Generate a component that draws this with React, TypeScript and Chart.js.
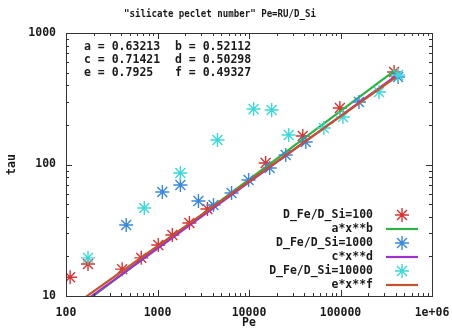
import React, { useEffect, useRef } from 'react';
import { Chart, registerables } from 'chart.js';

Chart.register(...registerables);

const titleText = '"silicate peclet number" Pe=RU/D_Si';
const xTitle = 'Pe';
const yTitle = 'tau';

const xTickValues = [100, 1000, 10000, 100000, 1000000];
const xTickLabels = ['100', '1000', '10000', '100000', '1e+06'];
const yTickValues = [10, 100, 1000];
const yTickLabels = ['10', '100', '1000'];

const seriesLabels = ['D_Fe/D_Si=100', 'D_Fe/D_Si=1000', 'D_Fe/D_Si=10000'];
const fitLabels = ['a*x**b', 'c*x**d', 'e*x**f'];
const fitParamLeft = ['a = 0.63213', 'c = 0.71421', 'e = 0.7925'];
const fitParamRight = ['b = 0.52112', 'd = 0.50298', 'f = 0.49327'];

// D_Fe/D_Si = 100
const pe100 = [111, 174, 411, 664, 1020, 1453, 2232, 3516, 15205, 38699, 98490, 385000];
const tau100 = [13.9, 17.5, 16.0, 19.5, 24.4, 29.1, 35.9, 45.9, 102.7, 164.7, 269, 505];

// D_Fe/D_Si = 1000
const pe1000 = [455, 1129, 1778, 2802, 4090, 6446, 9899, 16822, 25192, 41743, 159130, 426000];
const tau1000 = [34.7, 61.8, 69.8, 52.8, 49.2, 60.7, 76.2, 94.1, 118.1, 148.3, 298.8, 462.9];

// D_Fe/D_Si = 10000
const pe10000 = [174, 717, 1778, 4526, 11228, 17687, 27183, 65766, 106240, 263630, 426000];
const tau10000 = [19.5, 46.7, 86.2, 153.6, 264.3, 259.7, 167.6, 189.5, 229.7, 355.9, 479.4];

// fit lines (end points)
const fitPe = [100, 400000];
const fitTauAB = [7.0, 525];
const fitTauCD = [7.2, 470];
const fitTauEF = [7.7, 460];

const colRed = '#d83434';
const colGreen = '#2fb343';
const colBlue = '#3b88da';
const colPurple = '#a032cc';
const colCyan = '#3fd8d8';
const colBrown = '#c2532a';

const FONT = '"DejaVu Sans Mono", "Liberation Mono", monospace';
const textColor = '#1a1a1a';

const toPts = (xs: number[], ys: number[]) => xs.map((x, i) => ({ x, y: ys[i] }));

function drawStar(ctx: CanvasRenderingContext2D, x: number, y: number, r: number, color: string) {
  ctx.save();
  ctx.strokeStyle = color;
  ctx.lineWidth = 1.4;
  ctx.beginPath();
  ctx.moveTo(x - r, y); ctx.lineTo(x + r, y);
  ctx.moveTo(x, y - r); ctx.lineTo(x, y + r);
  const d = r * Math.SQRT1_2;
  ctx.moveTo(x - d, y - d); ctx.lineTo(x + d, y + d);
  ctx.moveTo(x - d, y + d); ctx.lineTo(x + d, y - d);
  ctx.stroke();
  ctx.restore();
}

const decorPlugin = {
  id: 'decor',
  afterDatasetsDraw(chart: any) {
    const { ctx, chartArea: a, scales } = chart;
    const xs = scales.x;
    const ys = scales.y;
    ctx.save();
    ctx.strokeStyle = '#333';
    ctx.lineWidth = 1;
    ctx.strokeRect(Math.round(a.left) + 0.5, Math.round(a.top) + 0.5, Math.round(a.right - a.left), Math.round(a.bottom - a.top));
    ctx.beginPath();
    for (let d = 100; d <= 1000000; d *= 10) {
      for (let m = 1; m <= 9; m++) {
        const v = d * m;
        if (v > 1000000) break;
        const px = Math.round(xs.getPixelForValue(v)) + 0.5;
        const len = m === 1 ? 6 : 3;
        ctx.moveTo(px, a.bottom); ctx.lineTo(px, a.bottom - len);
        ctx.moveTo(px, a.top); ctx.lineTo(px, a.top + len);
      }
    }
    for (let d = 10; d <= 1000; d *= 10) {
      for (let m = 1; m <= 9; m++) {
        const v = d * m;
        if (v > 1000) break;
        const py = Math.round(ys.getPixelForValue(v)) + 0.5;
        const len = m === 1 ? 6 : 3;
        ctx.moveTo(a.left, py); ctx.lineTo(a.left + len, py);
        ctx.moveTo(a.right, py); ctx.lineTo(a.right - len, py);
      }
    }
    ctx.stroke();
    ctx.restore();
  },
  afterDraw(chart: any) {
    const { ctx, data } = chart;
    ctx.save();
    // title (narrower lettering, as in the reference)
    ctx.fillStyle = textColor;
    ctx.font = `bold 11px ${FONT}`;
    ctx.textAlign = 'center';
    ctx.textBaseline = 'middle';
    const w = ctx.measureText(titleText).width;
    const sx = 192 / w;
    ctx.save();
    ctx.translate(220, 14);
    ctx.scale(sx, 1);
    ctx.fillText(titleText, 0, 0);
    ctx.restore();

    // fit parameters
    ctx.font = `bold 11.5px ${FONT}`;
    ctx.textAlign = 'left';
    fitParamLeft.forEach((t, i) => {
      ctx.fillText(t, 84, 47 + i * 13);
      ctx.fillText(fitParamRight[i], 175, 47 + i * 13);
    });

    // legend
    ctx.textAlign = 'right';
    const entries = [
      { label: seriesLabels[0], ds: 0, kind: 'pt' },
      { label: fitLabels[0], ds: 1, kind: 'ln' },
      { label: seriesLabels[1], ds: 2, kind: 'pt' },
      { label: fitLabels[1], ds: 3, kind: 'ln' },
      { label: seriesLabels[2], ds: 4, kind: 'pt' },
      { label: fitLabels[2], ds: 5, kind: 'ln' },
    ];
    entries.forEach((e, i) => {
      const y = 215 + i * 14;
      ctx.fillStyle = textColor;
      ctx.fillText(e.label, 373, y);
      const c = data.datasets[e.ds].borderColor;
      if (e.kind === 'pt') {
        drawStar(ctx, 402, y, 7, c);
      } else {
        ctx.strokeStyle = c;
        ctx.lineWidth = 2.2;
        ctx.beginPath();
        ctx.moveTo(386, y);
        ctx.lineTo(418, y);
        ctx.stroke();
      }
    });
    ctx.restore();
  },
};

export default function App() {
  const ref = useRef<HTMLCanvasElement>(null);
  useEffect(() => {
    if (!ref.current) return;
    const pointDs = (label: string, xs: number[], ys: number[], color: string, order: number) => ({
      label,
      data: toPts(xs, ys),
      borderColor: color,
      backgroundColor: color,
      pointStyle: 'star',
      pointRadius: 7,
      pointBorderWidth: 1.4,
      showLine: false,
      order,
    });
    const lineDs = (label: string, ys: number[], color: string, order: number) => ({
      label,
      data: toPts(fitPe, ys),
      borderColor: color,
      backgroundColor: color,
      borderWidth: 2.2,
      pointRadius: 0,
      showLine: true,
      order,
    });
    const chart = new Chart(ref.current, {
      type: 'scatter',
      data: {
        datasets: [
          pointDs(seriesLabels[0], pe100, tau100, colRed, 5),
          lineDs(fitLabels[0], fitTauAB, colGreen, 4),
          pointDs(seriesLabels[1], pe1000, tau1000, colBlue, 3),
          lineDs(fitLabels[1], fitTauCD, colPurple, 2),
          pointDs(seriesLabels[2], pe10000, tau10000, colCyan, 1),
          lineDs(fitLabels[2], fitTauEF, colBrown, 0),
        ] as any,
      },
      options: {
        animation: false,
        responsive: false,
        devicePixelRatio: 1,
        layout: { padding: { left: 0, right: 20, top: 33, bottom: 0 } },
        plugins: {
          legend: { display: false },
          tooltip: { enabled: false },
          title: { display: false },
        },
        scales: {
          x: {
            type: 'logarithmic',
            min: 100,
            max: 1000000,
            grid: { display: false },
            border: { display: false },
            afterBuildTicks: (s: any) => { s.ticks = xTickValues.map((v) => ({ value: v })); },
            afterFit: (s: any) => { s.height = 36; s.paddingLeft = 0; s.paddingRight = 0; },
            ticks: {
              autoSkip: false,
              maxRotation: 0,
              padding: 2,
              color: textColor,
              font: { family: FONT, size: 11.5, weight: 'bold' },
              callback: (_v: any, i: number) => xTickLabels[i],
            },
            title: {
              display: true,
              text: xTitle,
              color: textColor,
              font: { family: FONT, size: 11.5, weight: 'bold' },
              padding: { top: 0, bottom: 2 },
            },
          },
          y: {
            type: 'logarithmic',
            min: 10,
            max: 1000,
            grid: { display: false },
            border: { display: false },
            afterBuildTicks: (s: any) => { s.ticks = yTickValues.map((v) => ({ value: v })); },
            afterFit: (s: any) => { s.width = 66; s.paddingTop = 0; s.paddingBottom = 0; },
            ticks: {
              autoSkip: false,
              padding: 2,
              color: textColor,
              font: { family: FONT, size: 11.5, weight: 'bold' },
              callback: (_v: any, i: number) => yTickLabels[i],
            },
            title: {
              display: true,
              text: yTitle,
              color: textColor,
              font: { family: FONT, size: 11.5, weight: 'bold' },
              padding: { top: 5, bottom: 0 },
            },
          },
        },
      } as any,
      plugins: [decorPlugin],
    });
    return () => chart.destroy();
  }, []);
  return (
    <div style={{ position: 'fixed', left: 0, top: 0, width: 452, height: 332, background: '#fff' }}>
      <canvas ref={ref} width={452} height={332} />
    </div>
  );
}
